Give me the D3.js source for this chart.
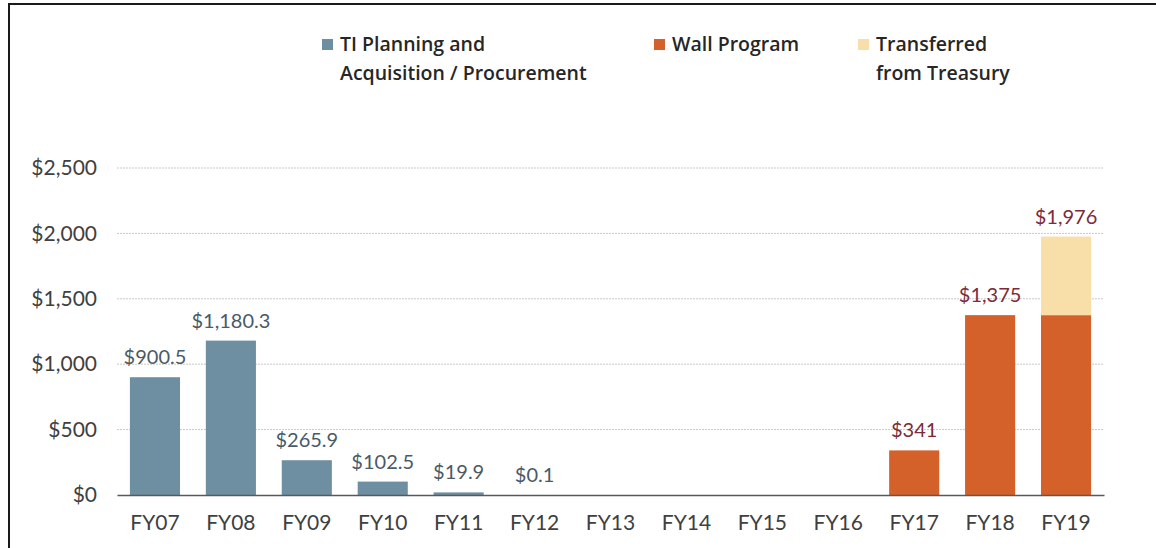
<!DOCTYPE html>
<html>
<head>
<meta charset="utf-8">
<script src="https://cdn.jsdelivr.net/npm/d3@7"></script>
<style>
  body { margin: 0; background: #fff; }
  text { font-family: Lato, "Open Sans", sans-serif; }
</style>
</head>
<body>
<div id="main"></div>
<script>
const ctx = {
    w: 1156,
    h: 548
};

// values in $ millions
const years = ["FY07", "FY08", "FY09", "FY10", "FY11", "FY12", "FY13", "FY14", "FY15", "FY16", "FY17", "FY18", "FY19"];
const tiValues = [900.5, 1180.3, 265.9, 102.5, 19.9, 0.1, 0, 0, 0, 0, 0, 0, 0];
const wallValues = [0, 0, 0, 0, 0, 0, 0, 0, 0, 0, 341, 1375, 1375];
const treasuryValues = [0, 0, 0, 0, 0, 0, 0, 0, 0, 0, 0, 0, 601];
const tiLabels = ["$900.5", "$1,180.3", "$265.9", "$102.5", "$19.9", "$0.1", "", "", "", "", "", "", ""];
const wallLabels = ["", "", "", "", "", "", "", "", "", "", "$341", "$1,375", "$1,976"];
const yTicks = [0, 500, 1000, 1500, 2000, 2500];
const seriesNames = ["TI Planning and|Acquisition / Procurement", "Wall Program", "Transferred|from Treasury"];
const seriesColors = ["#6E8FA1", "#D46129", "#F8DFAA"];

function createViz() {
    let svg = d3.select("#main").append("svg")
        .attr("width", ctx.w)
        .attr("height", ctx.h);

    // outer frame
    svg.append("rect")
        .attr("x", 9).attr("y", 4)
        .attr("width", 1160).attr("height", 560)
        .attr("fill", "none")
        .attr("stroke", "#1a1a1a")
        .attr("stroke-width", 2);

    let x = d3.scaleBand().domain(years).range([117, 1104]).paddingInner(0.34).paddingOuter(0.17);
    let y = d3.scaleLinear().domain([0, 2500]).range([495, 168]);

    // gridlines
    svg.append("g").selectAll("line")
        .data(yTicks.filter(d => d > 0))
        .enter().append("line")
        .attr("x1", 117).attr("x2", 1104)
        .attr("y1", d => y(d)).attr("y2", d => y(d))
        .attr("stroke", "#c8c8c8")
        .attr("stroke-dasharray", "2,1");

    // y axis labels
    let yAxis = d3.axisLeft(y).tickValues(yTicks).tickSize(0).tickPadding(20)
        .tickFormat(d => "$" + d3.format(",")(d));
    let yG = svg.append("g").attr("transform", "translate(117,0)").call(yAxis);
    yG.select(".domain").remove();
    yG.selectAll("text").attr("font-size", 21).attr("fill", "#404040")
        .style("font-family", "Lato, sans-serif");

    // stacked bars
    let stackData = years.map((yr, i) => ({ year: yr, ti: tiValues[i], wall: wallValues[i], tr: treasuryValues[i] }));
    let stack = d3.stack().keys(["ti", "wall", "tr"])(stackData);
    svg.append("g").selectAll("g")
        .data(stack)
        .enter().append("g")
        .attr("fill", (d, i) => seriesColors[i])
        .selectAll("rect")
        .data(d => d)
        .enter().append("rect")
        .attr("x", d => x(d.data.year))
        .attr("y", d => y(d[1]))
        .attr("width", x.bandwidth())
        .attr("height", d => y(d[0]) - y(d[1]));

    // x axis
    let xAxis = d3.axisBottom(x).tickSize(0).tickPadding(20);
    let xG = svg.append("g").attr("transform", "translate(0,495)").call(xAxis);
    xG.select(".domain").attr("stroke", "#595959").attr("stroke-width", 1.5);
    xG.selectAll("text").attr("font-size", 21).attr("fill", "#404040")
        .style("font-family", "Lato, sans-serif");

    // data labels
    svg.append("g").selectAll("text")
        .data(years.filter((d, i) => tiLabels[i] !== ""))
        .enter().append("text")
        .attr("x", d => x(d) + x.bandwidth() / 2)
        .attr("y", d => y(tiValues[years.indexOf(d)]) - 13)
        .attr("text-anchor", "middle")
        .attr("font-size", 20)
        .attr("fill", "#4a5a68")
        .text(d => tiLabels[years.indexOf(d)]);
    svg.append("g").selectAll("text")
        .data(years.filter((d, i) => wallLabels[i] !== ""))
        .enter().append("text")
        .attr("x", d => x(d) + x.bandwidth() / 2)
        .attr("y", d => {
            let i = years.indexOf(d);
            return y(wallValues[i] + treasuryValues[i]) - 13;
        })
        .attr("text-anchor", "middle")
        .attr("font-size", 20)
        .attr("fill", "#7B2B3A")
        .text(d => wallLabels[years.indexOf(d)]);

    // legend
    let legendX = [322, 654, 858];
    let legend = svg.append("g").selectAll("g")
        .data(seriesNames)
        .enter().append("g")
        .attr("transform", (d, i) => "translate(" + legendX[i] + ",0)");
    legend.append("rect")
        .attr("x", 0).attr("y", 39)
        .attr("width", 11).attr("height", 11)
        .attr("fill", (d, i) => seriesColors[i]);
    legend.each(function (d) {
        let t = d3.select(this).append("text")
            .attr("font-size", 19.5)
            .attr("font-weight", 600)
            .attr("fill", "#262626")
            .style("font-family", "'Open Sans', sans-serif");
        d.split("|").forEach((line, k) => {
            t.append("tspan").attr("x", 18).attr("y", 51 + k * 29).text(line);
        });
    });
}

createViz();
</script>
</body>
</html>
